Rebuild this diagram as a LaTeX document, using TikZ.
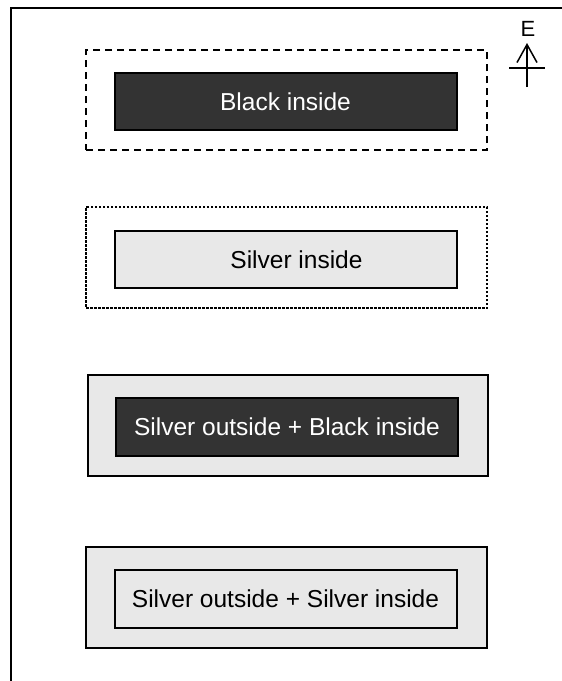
\documentclass[tikz,border=0pt]{standalone}
\usepackage{fontspec}
\setmainfont{Liberation Sans}
\usetikzlibrary{arrows.meta}
\definecolor{darkfill}{HTML}{333333}
\definecolor{silverfill}{HTML}{E8E8E8}
\tikzset{
  outerbox/.style={draw, line width=2pt, minimum width=#1, minimum height=101pt, inner sep=0pt},
  dashbox/.style={draw, line width=2pt, dash pattern=on 7pt off 5pt, minimum width=401pt, minimum height=100pt, inner sep=0pt},
  dotbox/.style={draw, line width=1.1pt, dash pattern=on 2.5pt off 1.5pt, minimum width=401pt, minimum height=101pt, inner sep=0pt},
  boxfont/.style={font=\fontsize{24.5}{28}\selectfont},
  blackinner/.style={draw, line width=2pt, fill=darkfill, text=white, minimum width=342pt, minimum height=57pt, inner sep=0pt, boxfont},
  silverinner/.style={draw, line width=2pt, fill=silverfill, text=black, minimum width=342pt, minimum height=57pt, inner sep=0pt, boxfont},
}
\begin{document}
\begin{tikzpicture}[x=1pt, y=-1pt]
  \useasboundingbox (0,0) rectangle (562,681);
  % page frame (left and top edges)
  \draw[line width=2pt] (10.5,681) -- (10.5,7.5) -- (562,7.5);

  % north marker
  \node[font=\fontsize{22}{24}\selectfont, inner sep=0pt] (east) at (528,29) {E};
  \coordinate (arrowtail) at (527,87);
  \coordinate (arrowtip) at (527,43);
  \draw[line width=1.5pt, -{Straight Barb[length=18pt,width=20pt,line width=1.5pt]}] (arrowtail) -- (arrowtip);
  \coordinate (crossL) at (509,68);
  \coordinate (crossR) at (545,68);
  \draw[line width=1.5pt] (crossL) -- (crossR);

  % case 1
  \node[dashbox] (outerA) at (286.5,100) {};
  \node[blackinner] (innerA) at (285.5,101.5) {Black inside};

  % case 2 (caption sits a little right of centre)
  \node[dotbox] (outerB) at (286.5,257.5) {};
  \node[silverinner, label={[boxfont, inner sep=0pt, xshift=11pt]center:Silver inside}] (innerB) at (285.5,259.5) {};

  % case 3
  \node[outerbox=400pt, fill=silverfill] (outerC) at (288,425) {};
  \node[blackinner, minimum height=58pt] (innerC) at (287,427) {Silver outside + Black inside};

  % case 4
  \node[outerbox=401pt, fill=silverfill] (outerD) at (286.5,597) {};
  \node[silverinner, minimum height=58pt] (innerD) at (285.5,599) {Silver outside + Silver inside};
\end{tikzpicture}
\end{document}
